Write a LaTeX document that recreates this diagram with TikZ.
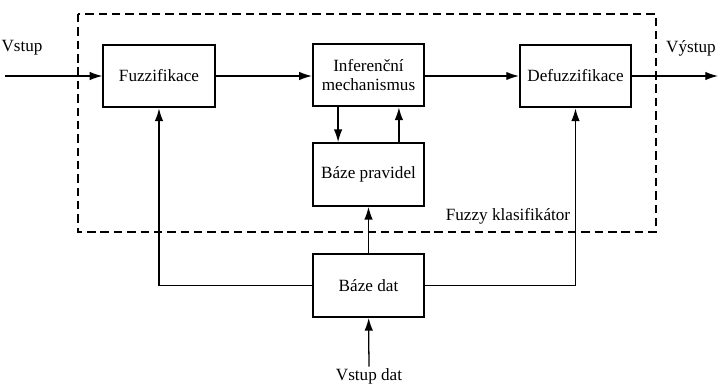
\documentclass[tikz,border=0pt]{standalone}
\usepackage{fontspec}
\setmainfont{Liberation Serif}
\usetikzlibrary{arrows.meta,positioning}

\begin{document}
\begin{tikzpicture}[x=0.025cm,y=-0.025cm,>={Latex[length=9pt,width=6pt]},
    blok/.style={draw,line width=1.4pt,minimum width=2.78cm,minimum height=1.57cm,align=center,inner sep=2pt,font=\fontsize{12.2}{14}\selectfont},
    popis/.style={inner sep=1pt,font=\fontsize{12.2}{14}\selectfont},
    spoj/.style={line width=0.9pt}]
  \useasboundingbox (0,0) rectangle (718,384);
  % hranice klasifikatoru
  \draw[line width=0.8pt,dash pattern=on 6pt off 3.5pt] (78,14) rectangle (656,232);
  \node[popis] (klas) at (508,216) {Fuzzy klasifikátor};
  % bloky
  \node[blok] (fuz) at (159,76) {Fuzzifikace};
  \node[blok] (inf) at (368.5,75) {Inferenční\\mechanismus};
  \node[blok] (defuz) at (575.5,76) {Defuzzifikace};
  \node[blok] (prav) at (368.5,174.5) {Báze pravidel};
  \node[blok] (dat) at (368.5,285.5) {Báze dat};
  % vstupy a vystupy
  \coordinate (vstup) at (5,76);
  \coordinate (vystup) at (718,76);
  \node[popis] (lvstup) at (22,48) {Vstup};
  \node[popis] (lvystup) at (691,48) {Výstup};
  \node[popis] (vdat) at (369,376) {Vstup dat};
  % spoje
  \draw[spoj,->] (vstup) -- (fuz);
  \draw[spoj,->] (fuz) -- (fuz -| inf.west);
  \draw[spoj,->] (inf.east |- defuz) -- (defuz);
  \draw[spoj,->] (defuz) -- (vystup);
  \draw[spoj,->] ([xshift=-0.76cm]inf.south) -- ([xshift=-0.76cm]prav.north);
  \draw[spoj,->] ([xshift=0.76cm]prav.north) -- ([xshift=0.76cm]inf.south);
  \draw[spoj,->] (dat) -- (prav);
  \draw[spoj,->] (dat.west) -| (fuz.south);
  \draw[spoj,->] (dat.east) -| (defuz.south);
  \draw[spoj,->] (vdat) -- (dat);
\end{tikzpicture}
\end{document}
